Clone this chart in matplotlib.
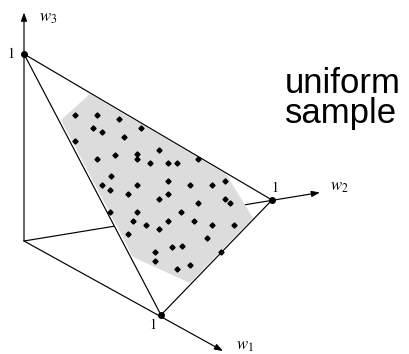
import matplotlib
matplotlib.use("Agg")
import matplotlib.pyplot as plt
from matplotlib.patches import Polygon

# ---- geometry of the projected simplex (drawing-plane coordinates, y downward) ----
origin = (24, 241)
vertex_labels = ["1", "1", "1"]
vert_x = [161, 272, 24]      # w1=1, w2=1, w3=1
vert_y = [315, 200, 54]
tip_x = [223, 320, 24]       # arrow tips for w1, w2, w3 axes
tip_y = [351, 192.5, 12.5]
axis_names = [r"$w_1$", r"$w_2$", r"$w_3$"]

# shaded (uniform-sample) region boundary
region_x = [90, 226, 253, 190, 133, 61]
region_y = [94, 174, 218, 283, 257, 120]

# sampled points
pts_x = [75, 97, 119, 93, 141, 102, 124, 75, 159, 115, 137, 137, 97, 198, 150, 168,
         177, 111, 168, 225, 102, 137, 190, 212, 110, 128, 168, 159, 225, 230, 198,
         110, 137, 181, 133, 168, 194, 146, 212, 234, 159, 128, 207, 172, 182, 155,
         221, 155, 190, 177]
pts_y = [115, 115, 119, 128, 128, 132, 137, 141, 150, 155, 154, 159, 159, 159, 163,
         163, 163, 176, 181, 181, 185, 185, 185, 185, 190, 194, 194, 199, 199, 203,
         203, 212, 212, 212, 221, 221, 221, 225, 225, 225, 229, 234, 238, 247, 246,
         252, 252, 261, 265, 269]

caption_lines = ["uniform", "sample"]

plt.rcParams["mathtext.fontset"] = "stix"

fig = plt.figure(figsize=(4.09, 3.54), dpi=100)
ax = fig.add_axes([0, 0, 1, 1])
ax.set_xlim(0, 409)
ax.set_ylim(354, 0)
ax.axis("off")

lw = 0.85
# axes with arrows
for tx, ty in zip(tip_x, tip_y):
    ax.annotate("", xy=(tx, ty), xytext=origin,
                arrowprops=dict(arrowstyle="-|>,head_length=0.5,head_width=0.18",
                                color="black", lw=lw, shrinkA=0, shrinkB=0,
                                mutation_scale=10), zorder=1)

# mask (hidden part behind the plane)
mask = Polygon([(vert_x[2], vert_y[2]), (region_x[1], region_y[1]),
                (region_x[2], region_y[2]), (vert_x[0], vert_y[0])],
               closed=True, facecolor="white", edgecolor="none", zorder=2)
ax.add_patch(mask)

# triangle outline
tri = Polygon(list(zip(vert_x, vert_y)), closed=True, facecolor="none",
              edgecolor="black", lw=lw, zorder=4)
region = Polygon(list(zip(region_x, region_y)), closed=True, facecolor="#dcdcdc",
                 edgecolor="none", zorder=3)
ax.add_patch(region)
ax.add_patch(tri)

# samples
ax.plot(pts_x, pts_y, linestyle="none", marker="D", markersize=2.6,
        color="black", zorder=5)
# vertices
ax.plot(vert_x, vert_y, linestyle="none", marker="o", markersize=4,
        color="black", zorder=6)

# vertex labels "1"
ax.text(vert_x[0] - 8, vert_y[0] + 10, vertex_labels[0], fontsize=10,
        family="STIXGeneral", ha="center", va="center")
ax.text(vert_x[1] + 3, vert_y[1] - 12, vertex_labels[1], fontsize=10,
        family="STIXGeneral", ha="center", va="center")
ax.text(vert_x[2] - 13, vert_y[2], vertex_labels[2], fontsize=10,
        family="STIXGeneral", ha="center", va="center")

# axis names
ax.text(236, 350, axis_names[0], fontsize=12, ha="left", va="baseline")
ax.text(330, 191, axis_names[1], fontsize=12, ha="left", va="baseline")
ax.text(39, 22, axis_names[2], fontsize=12, ha="left", va="baseline")

# caption
ax.text(285, 93, caption_lines[0], fontsize=25, family="Liberation Sans",
        ha="left", va="baseline")
ax.text(285, 123, caption_lines[1], fontsize=25, family="Liberation Sans",
        ha="left", va="baseline")

fig.savefig("out.png", dpi=100)
